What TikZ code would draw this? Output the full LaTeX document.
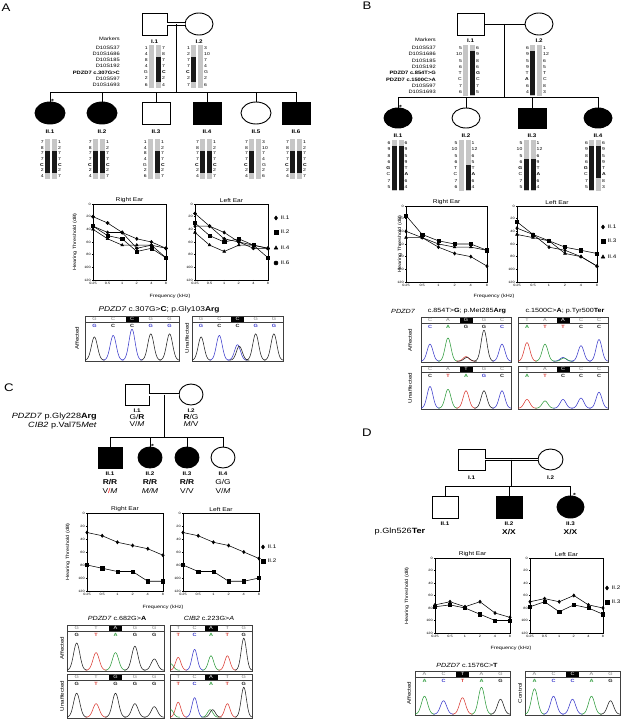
\documentclass[tikz,border=0pt]{standalone}
\usepackage{fontspec}
\setmainfont{Liberation Sans}[FakeStretch=1.2]
\usepackage{tikz}
\usetikzlibrary{positioning,shapes,plotmarks,calc}

\definecolor{HAP_GREY}{HTML}{C6C6C6}
\definecolor{REF_GREY}{HTML}{7A7A7A}
\definecolor{trblue}{HTML}{3A3ACB}
\definecolor{trgreen}{HTML}{2E9B3C}
\definecolor{trred}{HTML}{DA3A32}
\definecolor{trblack}{HTML}{202020}

\tikzstyle{person}  = [draw, line width=0.9pt, inner sep=0pt]
\tikzstyle{male}    = [person, rectangle, minimum width=26pt, minimum height=22pt]
\tikzstyle{female}  = [person, ellipse, minimum width=28pt, minimum height=22pt]
\tikzstyle{affected}= [fill=black]
\tikzstyle{line}    = [line width=0.9pt]
\tikzstyle{consang} = [line width=0.7pt, double, double distance=2pt]
\tikzstyle{pid}     = [font=\bfseries\fontsize{5.2}{6}\selectfont, inner sep=0pt]
\tikzstyle{proband} = [font=\bfseries\fontsize{6}{6}\selectfont, inner sep=0pt, anchor=base west]
\tikzstyle{geno}    = [font=\fontsize{7}{8}\selectfont, inner sep=0pt]
\tikzstyle{varname} = [font=\fontsize{7.6}{8}\selectfont, inner sep=0pt, anchor=east]
\tikzstyle{panel}   = [font=\fontsize{11}{12}\selectfont, inner sep=0pt]
\tikzstyle{mkname}  = [font=\fontsize{4.8}{5}\selectfont, inner sep=0pt, anchor=east]
\tikzstyle{hapnum}  = [font=\fontsize{4.2}{5}\selectfont, inner sep=0pt]

\tikzstyle{earbox}  = [line width=0.7pt]
\tikzstyle{ticklab} = [font=\fontsize{3.2}{4}\selectfont, inner sep=0.8pt]
\tikzstyle{eartitle}= [font=\fontsize{5.5}{6}\selectfont, inner sep=1.2pt, anchor=south]
\tikzstyle{axlabel} = [font=\fontsize{4.6}{5}\selectfont, inner sep=0pt]
\tikzstyle{trace}   = [line width=0.55pt, mark size=1.6pt, mark options={solid, fill=black}]
\tikzstyle{legtext} = [font=\fontsize{5.2}{6}\selectfont, inner sep=0pt, anchor=west]

\tikzstyle{chframe} = [line width=0.5pt, draw=black!75]
\tikzstyle{refbase} = [font=\fontsize{4.6}{5}\selectfont, text=REF_GREY, inner sep=0pt]
\tikzstyle{callbase}= [font=\bfseries\fontsize{4.6}{5}\selectfont, inner sep=0pt]
\tikzstyle{peak}    = [line width=0.55pt]
\tikzstyle{sampletag}=[font=\fontsize{5.2}{6}\selectfont, inner sep=0pt, rotate=90]
\tikzstyle{chtitle} = [font=\fontsize{6}{7}\selectfont, inner sep=0pt]

% one haplotype: both bars, black part given by first and last row (0 = none)
\newcommand{\hapbars}[8]{%
  \fill[HAP_GREY] ({#1-6},{#2-0.55*#3}) rectangle ({#1-1},{#2+(#4-0.45)*#3});
  \fill[HAP_GREY] ({#1+1},{#2-0.55*#3}) rectangle ({#1+6},{#2+(#4-0.45)*#3});
  \ifnum#5>0 \fill[black!90] ({#1-6},{#2+(#5-1.5)*#3}) rectangle ({#1-1},{#2+(#6-0.5)*#3});\fi
  \ifnum#7>0 \fill[black!90] ({#1+1},{#2+(#7-1.5)*#3}) rectangle ({#1+6},{#2+(#8-0.5)*#3});\fi
}
\newcommand{\hapnums}[5]{%
  \foreach \a [count=\i from 0] in {#4} \node[hapnum, anchor=east] at ({#1-7},{#2+\i*#3}) {\a};
  \foreach \a [count=\i from 0] in {#5} \node[hapnum, anchor=west] at ({#1+7},{#2+\i*#3}) {\a};
}
% audiogram axes, in a scope with x = one octave, y = one dB
\newcommand{\earaxes}[1]{%
  \draw[earbox] (0,0) rectangle (5,120);
  \foreach \d in {0,20,...,120}{
    \draw[line width=0.5pt] (0,\d) -- ++(-1.3pt,0);
    \node[ticklab, anchor=east] at ([xshift=-1.3pt]0,\d) {\d};}
  \foreach \f [count=\i from 0] in {0.25,0.5,1,2,4,8}{
    \draw[line width=0.5pt] (\i,120) -- ++(0,-1.3pt);
    \node[ticklab, anchor=north] at ([yshift=-1.3pt]\i,120) {\f};}
  \node[eartitle] at (2.5,0) {#1};
}
\newcommand{\legentry}[4]{%
  \path[trace, mark size=2pt] plot[mark=#3] coordinates {(#1,#2)};
  \node[legtext] at (#1+4.5,#2) {#4};
}
% chromatogram box: width, height, five reference bases (third one marked)
\newcommand{\chtop}[7]{%
  \draw[chframe] (0,0) rectangle (#1,#2);
  \draw[chframe] (0,6.5) -- (#1,6.5);
  \fill ({0.5*#1-6.5},0.9) rectangle ({0.5*#1+6.5},5.8);
  \node[refbase] at ({0.1*#1},3.4) {#3};
  \node[refbase] at ({0.3*#1},3.4) {#4};
  \node[refbase, text=white] at ({0.5*#1},3.4) {#5};
  \node[refbase] at ({0.7*#1},3.4) {#6};
  \node[refbase] at ({0.9*#1},3.4) {#7};
}
\newcommand{\calls}[2]{%
  \foreach \c/\b [count=\i from 0] in {#2} \node[callbase, text=\c] at ({#1*(0.1+0.2*\i)},9.6) {\b};
}
\newcommand{\peaks}[3]{%
  \begin{scope}
    \clip (0,12) rectangle (#1,#2);
    \foreach \p/\s/\c in {#3}
      \draw[peak, \c] plot[domain=-1.1:1.1, samples=31, smooth]
        ({#1*(0.1+0.2*\p+0.1*\x)},{#2-0.8-\s*(#2-14)*exp(-4.84*(\x)*(\x))});
  \end{scope}
}

\begin{document}
\begin{tikzpicture}[x=1pt, y=-1pt]
  \useasboundingbox (0,0) rectangle (623,719);

  %%%%%%%%%%%%%%%%%%%%%%%%%%%%%%%%%%%%%%%%%%%%%%%%%
  % PANEL A
  %%%%%%%%%%%%%%%%%%%%%%%%%%%%%%%%%%%%%%%%%%%%%%%%%
  \node[panel] at (6,7.5) {A};

  % parents
  \node[male, minimum width=25pt]   (A11) at (154.5,24) {};
  \node[female] (A12) at (199,24) {};
  \draw[consang] (A11.east) -- (A12.west);
  \node[pid, below=4pt of A11] {I.1};
  \node[pid, below=4pt of A12] {I.2};
  \coordinate (Amid) at ($(A11.east)!0.5!(A12.west)$);
  \coordinate (Asib) at (0,92);
  \draw[line] (Amid) -- (Amid |- Asib);

  % children
  \node[female, affected, minimum width=30pt] (A21) at (50,113) {};
  \node[female, affected, minimum width=30pt] (A22) at (102,113) {};
  \node[male, minimum width=28pt]             (A23) at (156,113) {};
  \node[male, affected, minimum width=28pt]   (A24) at (207,113) {};
  \node[female, minimum width=30pt]           (A25) at (256,113) {};
  \node[male, affected, minimum width=28pt]   (A26) at (296,113) {};
  \draw[line] (A21.north |- Asib) -- (A26.north |- Asib);
  \foreach \c/\t in {A21/II.1,A22/II.2,A23/II.3,A24/II.4,A25/II.5,A26/II.6}{
    \draw[line] (\c.north) -- (\c.north |- Asib);
    \node[pid, below=5pt of \c] {\t};}
  \node[proband] at ([xshift=0.8pt, yshift=-1.5pt]A21.north) {*};

  % markers and haplotypes
  \node[mkname] at (120,39) {Markers};
  \foreach \m [count=\i from 0] in {D10S537,D10S1686,D10S185,D10S192,\textbf{PDZD7 c.307G>C},D10S597,D10S1693}
    \node[mkname] at (120,48+\i*6.1) {\m};
  \hapbars{155}{48}{6.1}{7}{0}{0}{3}{6}
  \hapnums{155}{48}{6.1}{1,4,8,4,G,2,6}{7,8,7,7,\textbf{C},2,4}
  \hapbars{197}{48}{6.1}{7}{3}{6}{0}{0}
  \hapnums{197}{48}{6.1}{1,2,7,7,\textbf{C},2,7}{3,10,7,4,G,2,6}
  \foreach \cx in {51,99,206,296}{
    \hapbars{\cx}{142}{5.7}{7}{3}{6}{3}{6}
    \hapnums{\cx}{142}{5.7}{7,8,7,7,\textbf{C},2,4}{1,2,7,7,\textbf{C},2,7}}
  \hapbars{154}{142}{5.7}{7}{0}{0}{3}{6}
  \hapnums{154}{142}{5.7}{1,4,8,4,G,2,6}{1,2,7,7,\textbf{C},2,7}
  \hapbars{255}{142}{5.7}{7}{3}{6}{0}{0}
  \hapnums{255}{142}{5.7}{7,8,7,7,\textbf{C},2,4}{3,10,7,4,G,2,6}

  % audiograms
  \begin{scope}[shift={(93,204)}, x=14.6pt, y=-0.633pt]
    \earaxes{Right Ear}
    \draw[trace] plot[mark=diamond*]  coordinates {(0,35) (1,45) (2,45) (3,55) (4,60) (5,70)};
    \draw[trace] plot[mark=square*]   coordinates {(0,35) (1,50) (2,55) (3,75) (4,70) (5,85)};
    \draw[trace] plot[mark=triangle*] coordinates {(0,40) (1,55) (2,65) (3,65) (4,65) (5,85)};
    \draw[trace] plot[mark=*]         coordinates {(0,20) (1,30) (2,45) (3,70) (4,65) (5,70)};
  \end{scope}
  \begin{scope}[shift={(195,204)}, x=14.6pt, y=-0.633pt]
    \earaxes{Left Ear}
    \draw[trace] plot[mark=diamond*]  coordinates {(0,35) (1,35) (2,45) (3,60) (4,65) (5,70)};
    \draw[trace] plot[mark=square*]   coordinates {(0,30) (1,50) (2,60) (3,55) (4,65) (5,85)};
    \draw[trace] plot[mark=triangle*] coordinates {(0,45) (1,65) (2,75) (3,65) (4,65) (5,70)};
    \draw[trace] plot[mark=*]         coordinates {(0,15) (1,35) (2,55) (3,60) (4,70) (5,70)};
  \end{scope}
  \node[axlabel, rotate=90] at (75,242) {Hearing Threshold (dB)};
  \node[axlabel] at (170,296) {Frequency (kHz)};
  \legentry{276}{218}{diamond*}{II.1}
  \legentry{276}{232}{square*}{II.2}
  \legentry{276}{248}{triangle*}{II.4}
  \legentry{276}{263}{*}{II.6}

  % chromatograms
  \node[chtitle, font=\fontsize{7}{8}\selectfont] at (159,310) {\textit{PDZD7} c.307G>\textbf{C}; p.Gly103\textbf{Arg}};
  \begin{scope}[shift={(85,316)}]
    \chtop{94}{45}{G}{C}{C}{G}{G}
    \calls{94}{trblue/G,trblack/C,trblack/C,trblue/G,trblue/G}
    \peaks{94}{45}{0/.75/trblack,1/.8/trblue,2/1/trblue,3/.85/trblack,4/.85/trblack}
  \end{scope}
  \begin{scope}[shift={(192,316)}]
    \chtop{91}{45}{G}{C}{C}{G}{G}
    \calls{91}{trblue/G,trblack/C,trblack/C,trblue/G,trblue/G}
    \peaks{91}{45}{0/.75/trblack,1/.8/trblue,2/.5/trblue,2.1/.45/trblack,3/.85/trblack,4/.85/trblack}
  \end{scope}
  \node[sampletag] at (77,338) {Affected};
  \node[sampletag] at (187,338) {Unaffected};

  %%%%%%%%%%%%%%%%%%%%%%%%%%%%%%%%%%%%%%%%%%%%%%%%%
  % PANEL B
  %%%%%%%%%%%%%%%%%%%%%%%%%%%%%%%%%%%%%%%%%%%%%%%%%
  \node[panel] at (367,6) {B};

  % parents
  \node[male, minimum width=27pt] (B11) at (470.5,24) {};
  \node[female] (B12) at (539,24) {};
  \draw[line] (B11) -- (B12);
  \node[pid, below=3pt of B11] {I.1};
  \node[pid, below=3pt of B12] {I.2};
  \coordinate (Bmid) at ($(B11.east)!0.5!(B12.west)$);
  \coordinate (Bsib) at (0,97);
  \draw[line] (Bmid) -- (Bmid |- Bsib);

  % children
  \node[female, affected, minimum height=20pt] (B21) at (398,118) {};
  \node[female, minimum height=20pt]           (B22) at (466,118) {};
  \node[male, affected, minimum width=28pt, minimum height=20pt] (B23) at (532,118) {};
  \node[female, affected, minimum height=20pt] (B24) at (598,118) {};
  \draw[line] (B21.north |- Bsib) -- (B24.north |- Bsib);
  \foreach \c/\t in {B21/II.1,B22/II.2,B23/II.3,B24/II.4}{
    \draw[line] (\c.north) -- (\c.north |- Bsib);
    \node[pid, below=5pt of \c] {\t};}
  \node[proband] at ([xshift=0.8pt, yshift=-1.5pt]B21.north) {*};

  % markers and haplotypes
  \node[mkname] at (436,40) {Markers};
  \foreach \m [count=\i from 0] in {D10S537,D10S1686,D10S185,D10S192,\textbf{PDZD7 c.854T>G},\textbf{PDZD7 c.1500C>A},D10S597,D10S1693}
    \node[mkname] at (436,48+\i*6.3) {\m};
  \hapbars{469}{48}{6.3}{8}{0}{0}{2}{8}
  \hapnums{469}{48}{6.3}{5,10,5,6,T,C,7,6}{6,9,8,6,\textbf{G},C,7,5}
  \hapbars{536}{48}{6.3}{8}{2}{8}{0}{0}
  \hapnums{536}{48}{6.3}{6,9,5,9,T,\textbf{A},6,4}{1,12,6,5,T,C,8,3}
  \hapbars{397.5}{143}{6.3}{8}{2}{8}{2}{8}
  \hapnums{397.5}{143}{6.3}{6,9,8,6,\textbf{G},C,7,5}{6,9,5,9,T,\textbf{A},6,4}
  \hapbars{464.5}{143}{6.3}{8}{0}{0}{5}{8}
  \hapnums{464.5}{143}{6.3}{5,10,5,6,T,C,7,6}{1,12,6,5,T,\textbf{A},6,4}
  \hapbars{529.5}{143}{6.3}{8}{4}{8}{4}{8}
  \hapnums{529.5}{143}{6.3}{5,10,5,6,\textbf{G},C,7,5}{1,12,6,9,T,\textbf{A},6,4}
  \hapbars{595}{143}{6.3}{8}{2}{8}{2}{6}
  \hapnums{595}{143}{6.3}{6,9,8,6,\textbf{G},C,7,5}{6,9,5,9,T,\textbf{A},8,3}

  % audiograms
  \begin{scope}[shift={(406,206)}, x=16.2pt, y=-0.633pt]
    \earaxes{Right Ear}
    \draw[trace] plot[mark=diamond*]  coordinates {(0,40) (1,50) (2,65) (3,75) (4,80) (5,95)};
    \draw[trace] plot[mark=square*]   coordinates {(0,15) (1,45) (2,55) (3,60) (4,60) (5,70)};
    \draw[trace] plot[mark=triangle*] coordinates {(0,50) (1,50) (2,60) (3,65) (4,65) (5,70)};
  \end{scope}
  \begin{scope}[shift={(517,206)}, x=16pt, y=-0.633pt]
    \earaxes{Left Ear}
    \draw[trace] plot[mark=diamond*]  coordinates {(0,35) (1,45) (2,65) (3,70) (4,80) (5,95)};
    \draw[trace] plot[mark=square*]   coordinates {(0,25) (1,45) (2,55) (3,65) (4,70) (5,75)};
    \draw[trace] plot[mark=triangle*] coordinates {(0,45) (1,50) (2,55) (3,75) (4,80) (5,95)};
  \end{scope}
  \node[axlabel, rotate=90] at (400,244) {Hearing Threshold (dB)};
  \node[axlabel] at (494,296) {Frequency (kHz)};
  \legentry{603}{227}{diamond*}{II.1}
  \legentry{603}{241}{square*}{II.3}
  \legentry{603}{257}{triangle*}{II.4}

  % chromatograms
  \node[chtitle, font=\itshape\fontsize{6}{7}\selectfont] at (403,311) {PDZD7};
  \node[chtitle] at (467,311) {c.854T>\textbf{G}; p.Met285\textbf{Arg}};
  \node[chtitle] at (565,311) {c.1500C>\textbf{A}; p.Tyr500\textbf{Ter}};
  \begin{scope}[shift={(421,317)}]
    \chtop{90}{45}{C}{A}{G}{G}{C}
    \calls{90}{trblue/C,trgreen/A,trblack/G,trblack/G,trblue/C}
    \peaks{90}{45}{0/.55/trblue,1/.75/trgreen,2/.15/trred,2.05/.12/trblack,3/1/trblack,4/.55/trblue}
  \end{scope}
  \begin{scope}[shift={(518,317)}]
    \chtop{90}{45}{T}{A}{A}{C}{C}
    \calls{90}{trgreen/A,trred/T,trred/T,trblack/C,trblack/C}
    \peaks{90}{45}{0/.6/trred,1/.55/trgreen,2/.12/trblue,2.05/.1/trgreen,3/.5/trblue,4/.7/trblue}
  \end{scope}
  \begin{scope}[shift={(421,366)}]
    \chtop{90}{43}{C}{A}{T}{G}{C}
    \calls{90}{trblack/C,trred/T,trgreen/A,trblue/G,trblack/C}
    \peaks{90}{43}{0/.75/trblue,1/.65/trgreen,2/.6/trred,3/.6/trblack,4/.6/trblue}
  \end{scope}
  \begin{scope}[shift={(518,366)}]
    \chtop{90}{43}{T}{A}{C}{C}{C}
    \calls{90}{trgreen/A,trred/T,trblack/C,trblack/C,trblack/C}
    \peaks{90}{43}{0/.3/trred,1/.25/trgreen,2/.3/trblue,3/.35/trblue,4/.55/trblue}
  \end{scope}
  \node[sampletag] at (410,340) {Affected};
  \node[sampletag] at (410,388) {Unaffected};

  %%%%%%%%%%%%%%%%%%%%%%%%%%%%%%%%%%%%%%%%%%%%%%%%%
  % PANEL C
  %%%%%%%%%%%%%%%%%%%%%%%%%%%%%%%%%%%%%%%%%%%%%%%%%
  \node[panel] at (9,388) {C};

  % parents
  \node[male, minimum width=24pt, minimum height=21pt]   (C11) at (137,394.5) {};
  \node[female, minimum width=24pt, minimum height=21pt] (C12) at (191,394.5) {};
  \draw[consang] (C11.east) -- (C12.west);
  \node[pid, below=3pt of C11] (C11l) {I.1};
  \node[pid, below=3pt of C12] (C12l) {I.2};
  \node[geno, below=1.5pt of C11l] (C11a) {G/\textbf{R}};
  \node[geno, below=1.5pt of C11a]        {V/\textit{M}};
  \node[geno, below=1.5pt of C12l] (C12a) {\textbf{R}/G};
  \node[geno, below=1.5pt of C12a]        {\textit{M}/V};
  \node[varname] at (97,417) {\textit{PDZD7} p.Gly228\textbf{Arg}};
  \node[varname] at (97,426) {\textit{CIB2} p.Val75\textit{Met}};
  \coordinate (Cmid) at ($(C11.east)!0.5!(C12.west)$);
  \coordinate (Csib) at (0,437);
  \draw[line] (Cmid) -- (Cmid |- Csib);

  % children
  \node[male, affected, minimum width=24pt, minimum height=21pt]   (C21) at (110,457.5) {};
  \node[female, affected, minimum width=24pt, minimum height=21pt] (C22) at (150,457.5) {};
  \node[female, affected, minimum width=24pt, minimum height=21pt] (C23) at (187,457.5) {};
  \node[female, minimum width=24pt, minimum height=21pt]           (C24) at (223,457.5) {};
  \draw[line] (C21.north |- Csib) -- (C24.north |- Csib);
  \foreach \c/\t in {C21/II.1,C22/II.2,C23/II.3,C24/II.4}{
    \draw[line] (\c.north) -- (\c.north |- Csib);
    \node[pid, below=3pt of \c] {\t};}
  \node[geno] at (110,482) {\textbf{R/R}};
  \node[geno] at (150,482) {\textbf{R/R}};
  \node[geno] at (187,482) {\textbf{R/R}};
  \node[geno] at (223,482) {G/G};
  \node[geno] at (110,491) {V{\color{red}/}\textit{M}};
  \node[geno] at (150,491) {\textit{M/M}};
  \node[geno] at (187,491) {V/V};
  \node[geno] at (223,491) {V/\textit{M}};
  \node[proband] at ([xshift=0.8pt, yshift=-1.5pt]C22.north) {*};

  % audiograms
  \begin{scope}[shift={(87,513)}, x=15.2pt, y=-0.65pt]
    \earaxes{Right Ear}
    \draw[trace] plot[mark=diamond*] coordinates {(0,30) (1,35) (2,45) (3,50) (4,55) (5,65)};
    \draw[trace] plot[mark=square*]  coordinates {(0,80) (1,85) (2,90) (3,90) (4,105) (5,105)};
  \end{scope}
  \begin{scope}[shift={(183,513)}, x=15.2pt, y=-0.65pt]
    \earaxes{Left Ear}
    \draw[trace] plot[mark=diamond*] coordinates {(0,30) (1,35) (2,45) (3,50) (4,60) (5,70)};
    \draw[trace] plot[mark=square*]  coordinates {(0,80) (1,90) (2,90) (3,105) (4,105) (5,100)};
  \end{scope}
  \node[axlabel, rotate=90] at (68,552) {Hearing Threshold (dB)};
  \node[axlabel] at (163,607) {Frequency (kHz)};
  \legentry{263}{547}{diamond*}{II.1}
  \legentry{263}{561}{square*}{II.2}

  % chromatograms
  \node[chtitle] at (117,618) {\textit{PDZD7} c.682G>\textbf{A}};
  \node[chtitle] at (209,618) {\textit{CIB2} c.223G>\textit{A}};
  \begin{scope}[shift={(67,625)}]
    \chtop{97}{46}{G}{T}{A}{G}{G}
    \calls{97}{trblack/G,trred/T,trgreen/A,trblack/G,trblack/G}
    \peaks{97}{46}{0/.85/trblack,1/.55/trred,2/.55/trgreen,3/.75/trblack,4/.35/trblack}
  \end{scope}
  \begin{scope}[shift={(170,625)}]
    \chtop{82}{46}{T}{C}{A}{T}{G}
    \calls{82}{trred/T,trblue/C,trgreen/A,trred/T,trblack/G}
    \peaks{82}{46}{-0.45/.2/trgreen,0/.4/trred,1/.65/trblue,2/.45/trgreen,3/.45/trred,4/1/trblack}
  \end{scope}
  \begin{scope}[shift={(67,674)}]
    \chtop{97}{44}{G}{T}{G}{G}{G}
    \calls{97}{trblack/G,trred/T,trblack/G,trblack/G,trblack/G}
    \peaks{97}{44}{0/.8/trblack,1/.45/trred,2/.8/trblack,3/.45/trblack,4/.35/trblack}
  \end{scope}
  \begin{scope}[shift={(170,674)}]
    \chtop{82}{44}{T}{C}{A}{T}{G}
    \calls{82}{trred/T,trblue/C,trgreen/A,trred/T,trblack/G}
    \peaks{82}{44}{-0.45/.25/trgreen,0/.5/trred,1/.65/trblue,1.95/.25/trgreen,2.1/.25/trblack,3/.45/trred,4/1/trblack}
  \end{scope}
  \node[sampletag] at (62,648) {Affected};
  \node[sampletag] at (62,696) {Unaffected};

  %%%%%%%%%%%%%%%%%%%%%%%%%%%%%%%%%%%%%%%%%%%%%%%%%
  % PANEL D
  %%%%%%%%%%%%%%%%%%%%%%%%%%%%%%%%%%%%%%%%%%%%%%%%%
  \node[panel] at (367,433) {D};

  % parents
  \node[male, minimum width=27pt, minimum height=21pt]   (D11) at (471.5,459.5) {};
  \node[female, minimum width=25pt, minimum height=21pt] (D12) at (550.5,459.5) {};
  \draw[line width=0.8pt, double, double distance=1.2pt] (D11.east) -- (D12.west);
  \node[pid, below=5pt of D11] {I.1};
  \node[pid, below=5pt of D12] {I.2};
  \coordinate (Dmid) at ($(D11.east)!0.5!(D12.west)$);
  \coordinate (Dsib) at (0,486);
  \draw[line] (Dmid) -- (Dmid |- Dsib);

  % children
  \node[male, minimum width=26pt]           (D21) at (445,507) {};
  \node[male, affected, minimum width=26pt] (D22) at (509,507) {};
  \node[female, affected, minimum width=27pt] (D23) at (570.5,507) {};
  \draw[line] (D21.north |- Dsib) -- (D23.north |- Dsib);
  \foreach \c/\t in {D21/II.1,D22/II.2,D23/II.3}{
    \draw[line] (\c.north) -- (\c.north |- Dsib);
    \node[pid, below=3pt of \c] {\t};}
  \node[proband] at ([xshift=2.5pt, yshift=-1.5pt]D23.north) {*};
  \node[geno, font=\bfseries\fontsize{7}{8}\selectfont] at (509,532) {X/X};
  \node[geno, font=\bfseries\fontsize{7}{8}\selectfont] at (570.5,532) {X/X};
  \node[geno, font=\fontsize{7.6}{8}\selectfont] at (400,532) {p.Gln526\textbf{Ter}};

  % audiograms
  \begin{scope}[shift={(435,558)}, x=15pt, y=-0.625pt]
    \earaxes{Right Ear}
    \draw[trace] plot[mark=diamond*] coordinates {(0,75) (1,70) (2,78) (3,70) (4,88) (5,95)};
    \draw[trace] plot[mark=square*]  coordinates {(0,78) (1,75) (2,80) (3,90) (4,100) (5,100)};
  \end{scope}
  \begin{scope}[shift={(530,558)}, x=14.6pt, y=-0.625pt]
    \earaxes{Left Ear}
    \draw[trace] plot[mark=diamond*] coordinates {(0,70) (1,65) (2,70) (3,60) (4,75) (5,80)};
    \draw[trace] plot[mark=square*]  coordinates {(0,78) (1,70) (2,86) (3,75) (4,80) (5,90)};
  \end{scope}
  \node[axlabel, rotate=90] at (407,596) {Hearing Threshold (dB)};
  \node[axlabel] at (511,648) {Frequency (kHz)};
  \legentry{607}{588}{diamond*}{II.2}
  \legentry{607}{602}{square*}{II.3}

  % chromatograms
  \node[chtitle] at (467,665) {\textit{PDZD7} c.1576C>\textbf{T}};
  \begin{scope}[shift={(415,671)}]
    \chtop{95}{44}{A}{C}{T}{A}{G}
    \calls{95}{trgreen/A,trblue/C,trred/T,trgreen/A,trblack/G}
    \peaks{95}{44}{0/.6/trgreen,1/.45/trblue,2/.55/trred,3/.9/trgreen,4/.5/trblack}
  \end{scope}
  \begin{scope}[shift={(525,671)}]
    \chtop{95}{44}{A}{C}{C}{A}{G}
    \calls{95}{trgreen/A,trblue/C,trblue/C,trgreen/A,trblack/G}
    \peaks{95}{44}{0/.85/trgreen,1/.6/trblue,2/.5/trblue,3/.6/trgreen,4/.45/trblack}
  \end{scope}
  \node[sampletag] at (409,693) {Affected};
  \node[sampletag] at (520,693) {Control};
\end{tikzpicture}
\end{document}
